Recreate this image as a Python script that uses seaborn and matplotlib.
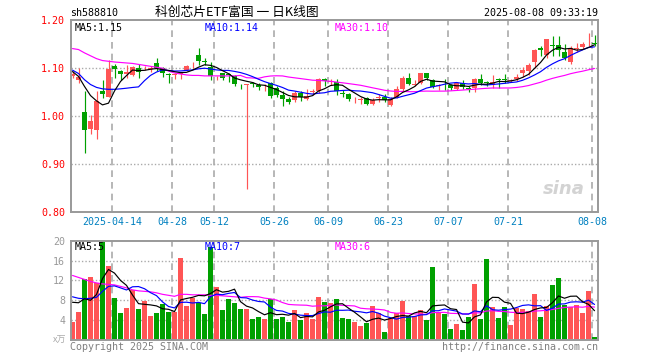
import numpy as np
import pandas as pd
import matplotlib
matplotlib.use("Agg")
import matplotlib.pyplot as plt
import seaborn as sns

# ---------------- data ----------------
opens = [1.083, 1.075, 1.009, 0.973, 0.971, 1.052, 1.041, 1.1055, 1.0945, 1.088,
         1.086, 1.100, 1.100, 1.098, 1.111, 1.100, 1.087, 1.086, 1.087, 1.097,
         1.1125, 1.128, 1.115, 1.103, 1.081, 1.090, 1.087, 1.084, 1.065, 1.066,
         1.068, 1.066, 1.062, 1.069, 1.059, 1.045, 1.036, 1.033, 1.048, 1.036,
         1.050, 1.053, 1.078, 1.072, 1.071, 1.047, 1.047, 1.035, 1.034, 1.037,
         1.026, 1.037, 1.040, 1.023, 1.041, 1.057, 1.080, 1.066, 1.070, 1.089,
         1.075, 1.062, 1.065, 1.064, 1.057, 1.070, 1.058, 1.059, 1.077, 1.070,
         1.066, 1.076, 1.077, 1.073, 1.078, 1.089, 1.095, 1.112, 1.142, 1.128,
         1.148, 1.149, 1.134, 1.113, 1.141, 1.145, 1.158, 1.152]
highs = [1.095, 1.100, 1.052, 1.003, 1.052, 1.076, 1.117, 1.109, 1.096, 1.107,
         1.105, 1.108, 1.104, 1.104, 1.122, 1.103, 1.090, 1.091, 1.093, 1.107,
         1.114, 1.142, 1.121, 1.113, 1.084, 1.091, 1.090, 1.086, 1.068, 1.068,
         1.072, 1.070, 1.068, 1.072, 1.062, 1.053, 1.040, 1.052, 1.052, 1.057,
         1.056, 1.079, 1.080, 1.078, 1.077, 1.054, 1.048, 1.041, 1.039, 1.040,
         1.038, 1.046, 1.046, 1.039, 1.062, 1.083, 1.089, 1.075, 1.090, 1.091,
         1.078, 1.067, 1.077, 1.067, 1.072, 1.075, 1.062, 1.079, 1.088, 1.073,
         1.085, 1.079, 1.088, 1.077, 1.088, 1.102, 1.110, 1.140, 1.146, 1.162,
         1.167, 1.168, 1.150, 1.146, 1.152, 1.154, 1.173, 1.170]
lows = [1.079, 1.070, 0.923, 0.963, 0.952, 1.038, 1.040, 1.079, 1.076, 1.080,
        1.083, 1.080, 1.096, 1.093, 1.095, 1.082, 1.070, 1.077, 1.077, 1.095,
        1.100, 1.107, 1.107, 1.076, 1.076, 1.076, 1.072, 1.062, 1.057, 0.848,
        1.061, 1.055, 1.052, 1.038, 1.040, 1.021, 1.026, 1.029, 1.031, 1.034,
        1.045, 1.048, 1.062, 1.066, 1.045, 1.041, 1.031, 1.027, 1.026, 1.023,
        1.024, 1.030, 1.029, 1.021, 1.038, 1.052, 1.065, 1.063, 1.068, 1.076,
        1.058, 1.055, 1.055, 1.054, 1.054, 1.056, 1.051, 1.051, 1.066, 1.063,
        1.058, 1.058, 1.070, 1.071, 1.073, 1.082, 1.086, 1.101, 1.126, 1.122,
        1.126, 1.126, 1.117, 1.108, 1.134, 1.141, 1.147, 1.146]
closes = [1.0876, 1.081, 0.971, 0.989, 1.031, 1.0455, 1.099, 1.098, 1.088, 1.093,
          1.103, 1.093, 1.101, 1.099, 1.101, 1.091, 1.085, 1.088, 1.089, 1.104,
          1.1135, 1.116, 1.1135, 1.083, 1.082, 1.080, 1.085, 1.068, 1.064, 1.067,
          1.067, 1.061, 1.063, 1.042, 1.045, 1.036, 1.030, 1.049, 1.040, 1.043,
          1.052, 1.078, 1.073, 1.073, 1.052, 1.046, 1.036, 1.036, 1.035, 1.026,
          1.034, 1.041, 1.034, 1.035, 1.057, 1.080, 1.068, 1.068, 1.089, 1.080,
          1.061, 1.064, 1.064, 1.058, 1.070, 1.061, 1.057, 1.077, 1.069, 1.069,
          1.072, 1.075, 1.076, 1.075, 1.082, 1.096, 1.107, 1.138, 1.137, 1.160,
          1.146, 1.137, 1.121, 1.143, 1.142, 1.151, 1.159, 1.150]
volumes = [3.7, 5.7, 12.2, 12.75, 11.4, 19.8, 14.9, 8.5, 5.4, 6.4,
           10.1, 6.2, 7.85, 4.8, 5.4, 7.25, 5.6, 5.6, 16.5, 6.85,
           8.45, 7.5, 5.2, 18.8, 10.7, 6.0, 8.3, 7.4, 6.2, 6.2,
           4.2, 4.6, 4.2, 8.3, 4.2, 4.6, 3.7, 6.0, 4.0, 5.4,
           4.2, 8.65, 7.65, 7.5, 8.3, 4.4, 4.2, 3.6, 2.8, 3.4,
           6.85, 5.4, 1.6, 4.4, 5.4, 7.85, 4.8, 4.8, 6.0, 4.0,
           14.7, 5.4, 5.2, 2.2, 3.2, 2.0, 4.6, 11.3, 4.2, 16.3,
           6.6, 4.4, 6.6, 3.0, 6.4, 6.2, 5.8, 9.3, 4.6, 6.85,
           11.1, 12.5, 7.0, 6.6, 7.0, 5.4, 9.9, 0.6]

# moving-average values visible at the left edge (earlier history not shown)
ma5_lead = [1.093, 1.083, 1.062, 1.043]
ma10_lead = [1.096, 1.089, 1.076, 1.066, 1.060, 1.057, 1.056, 1.056, 1.057]
ma30_lead = [1.141, 1.139, 1.132, 1.126, 1.120, 1.116, 1.1145, 1.113, 1.112, 1.111,
             1.110, 1.108, 1.106, 1.104, 1.102, 1.100, 1.094, 1.090, 1.088, 1.086,
             1.085, 1.085, 1.084, 1.084, 1.084, 1.084, 1.084, 1.084, 1.085]
vma5_lead = [7.6, 7.5, 8.3, 8.0]
vma10_lead = [8.7, 8.4, 8.3, 8.4, 8.6, 9.8, 10.8, 10.9, 10.5]
vma30_lead = [13.0, 12.6, 12.2, 11.8, 11.5, 11.3, 11.2, 11.1, 10.8, 10.5,
              10.1, 9.9, 9.8, 9.7, 9.5, 9.2, 9.0, 8.8, 9.2, 9.2,
              9.1, 9.1, 9.1, 9.0, 9.0, 8.9, 8.8, 8.7, 8.6]

tick_idx = [7, 17, 24, 34, 43, 53, 63, 73, 87]
tick_labels = ["2025-04-14", "04-28", "05-12", "05-26", "06-09",
               "06-23", "07-07", "07-21", "08-08"]
price_ticks = [0.80, 0.90, 1.00, 1.10, 1.20]
vol_ticks = [4, 8, 12, 16, 20]

# ---------------- styling ----------------
sns.set_theme(style="white")
plt.rcParams['font.family'] = ['DejaVu Sans Mono', 'Noto Sans CJK SC']
MONO = ['DejaVu Sans Mono', 'Noto Sans CJK SC']
CJK = ['Noto Sans CJK SC', 'DejaVu Sans']
RED = '#FF5555'
GREEN = '#00A000'
GRID = '#AAAAAA'
FRAME = '#999999'


def moving(values, n, lead):
    s = pd.Series(values, dtype=float).rolling(n).mean()
    s.iloc[:len(lead)] = lead
    return s.values


idx = np.arange(len(closes))
o = np.array(opens); c = np.array(closes)
h = np.array(highs); l = np.array(lows)
up = c >= o
cols = np.where(up, RED, GREEN)

W, H = 660, 360
fig = plt.figure(figsize=(6.6, 3.6), dpi=100)


def rect(x0, y0, x1, y1):
    return [x0 / W, 1 - y1 / H, (x1 - x0) / W, (y1 - y0) / H]


ax = fig.add_axes(rect(70.7, 20.3, 597.7, 212.0))
axv = fig.add_axes(rect(70.7, 240.7, 597.7, 340.0))

XL = (-0.3, 87.53)

# ---- price panel ----
for y in [0.90, 1.00, 1.10]:
    ax.axhline(y, color=GRID, lw=1, ls=(0, (1, 1.5)), zorder=0)
for t in tick_idx:
    ax.axvline(t - 0.37, color=GRID, lw=1.2, ls=(0, (4, 3)), zorder=0)
    axv.axvline(t - 0.37, color=GRID, lw=1.2, ls=(0, (4, 3)), zorder=0)

ax.vlines(idx, l, h, colors=cols, lw=0.85, zorder=2)
body_h = np.maximum(np.abs(c - o), 0.0015)
ax.bar(idx, body_h, bottom=np.minimum(o, c), width=0.72, color=cols,
       linewidth=0, zorder=2)

ma5 = moving(closes, 5, ma5_lead)
ma10 = moving(closes, 10, ma10_lead)
ma30 = moving(closes, 30, ma30_lead)
for ma, colr in [(ma30, '#FF00FF'), (ma10, '#0000FF'), (ma5, '#000000')]:
    sns.lineplot(x=idx, y=ma, color=colr, lw=0.85, ax=ax, estimator=None,
                 sort=False, zorder=3)

ax.set_xlim(*XL)
ax.set_ylim(0.80, 1.20)
ax.set_yticks(price_ticks)
ax.set_yticklabels([f"{v:.2f}" for v in price_ticks], family=MONO, fontsize=7.2)
ax.tick_params(axis='y', colors='#FF0000', length=0, pad=4)
ax.set_xticks([t - 0.37 for t in tick_idx])
ax.set_xticklabels(tick_labels, family=MONO, fontsize=7.2)
ax.tick_params(axis='x', colors='#0080C0', length=0, pad=3.5)
ax.set_xlabel(""); ax.set_ylabel("")
for sp in ax.spines.values():
    sp.set_color(FRAME); sp.set_linewidth(1.4)

ax.text(0.008, 0.985, "MA5:1.15", transform=ax.transAxes, ha='left', va='top',
        fontsize=7.2, family=MONO, color='#000000')
ax.text(0.255, 0.985, "MA10:1.14", transform=ax.transAxes, ha='left', va='top',
        fontsize=7.2, family=MONO, color='#0000FF')
ax.text(0.5015, 0.985, "MA30:1.10", transform=ax.transAxes, ha='left', va='top',
        fontsize=7.2, family=MONO, color='#FF00FF')
ax.text(0.975, 0.12, "sina", transform=ax.transAxes, ha='right', va='center',
        fontsize=13, fontweight='bold', style='italic', color='#C8C8C8',
        family=['DejaVu Sans'], alpha=0.8)

# ---- volume panel ----
for y in [4, 8, 12, 16]:
    axv.axhline(y, color=GRID, lw=1, ls=(0, (1, 1.5)), zorder=0)

df = pd.DataFrame({"idx": idx, "vol": volumes,
                   "dir": np.where(up, "up", "down")})
sns.barplot(data=df, x="idx", y="vol", hue="dir",
            palette={"up": RED, "down": GREEN}, native_scale=True,
            width=0.83, dodge=False, errorbar=None, saturation=1,
            legend=False, linewidth=0, ax=axv, zorder=2)

vma5 = moving(volumes, 5, vma5_lead)
vma10 = moving(volumes, 10, vma10_lead)
vma30 = moving(volumes, 30, vma30_lead)
for ma, colr in [(vma30, '#FF00FF'), (vma10, '#0000FF'), (vma5, '#000000')]:
    sns.lineplot(x=idx, y=ma, color=colr, lw=0.85, ax=axv, estimator=None,
                 sort=False, zorder=3)

axv.set_xlim(*XL)
axv.set_ylim(0, 20)
axv.set_yticks(vol_ticks)
axv.set_yticklabels([str(v) for v in vol_ticks], family=MONO, fontsize=7.2)
axv.tick_params(axis='y', colors='#999999', length=0, pad=4)
axv.set_xticks([])
axv.set_xlabel(""); axv.set_ylabel("")
for sp in axv.spines.values():
    sp.set_color(FRAME); sp.set_linewidth(1.4)

axv.text(0.008, 0.985, "MA5:5", transform=axv.transAxes, ha='left', va='top',
         fontsize=7.2, family=MONO, color='#000000')
axv.text(0.255, 0.985, "MA10:7", transform=axv.transAxes, ha='left', va='top',
         fontsize=7.2, family=MONO, color='#0000FF')
axv.text(0.5015, 0.985, "MA30:6", transform=axv.transAxes, ha='left', va='top',
         fontsize=7.2, family=MONO, color='#FF00FF')

# ---- header / footer ----
fig.text(70 / W, 1 - 12.5 / H, "sh588810", ha='left', va='center',
         fontsize=7.2, family=MONO, color='#000000')
fig.text(237 / W, 1 - 12.5 / H, "科创芯片ETF富国 一 日K线图", ha='center',
         va='center', fontsize=9.2, family=CJK, color='#000000')
fig.text(597.7 / W, 1 - 12.5 / H, "2025-08-08 09:33:19", ha='right',
         va='center', fontsize=7.2, family=MONO, color='#000000')
fig.text(66 / W, 1 - 340 / H, "x万", ha='right', va='center',
         fontsize=6.5, family=CJK, color='#AAAAAA')
fig.text(70 / W, 1 - 347.5 / H, "Copyright 2025 SINA.COM", ha='left',
         va='center', fontsize=7.2, family=MONO, color='#808080')
fig.text(597.7 / W, 1 - 347.5 / H, "http://finance.sina.com.cn", ha='right',
         va='center', fontsize=7.2, family=MONO, color='#808080')

fig.savefig("out.png", dpi=100, facecolor='white')
